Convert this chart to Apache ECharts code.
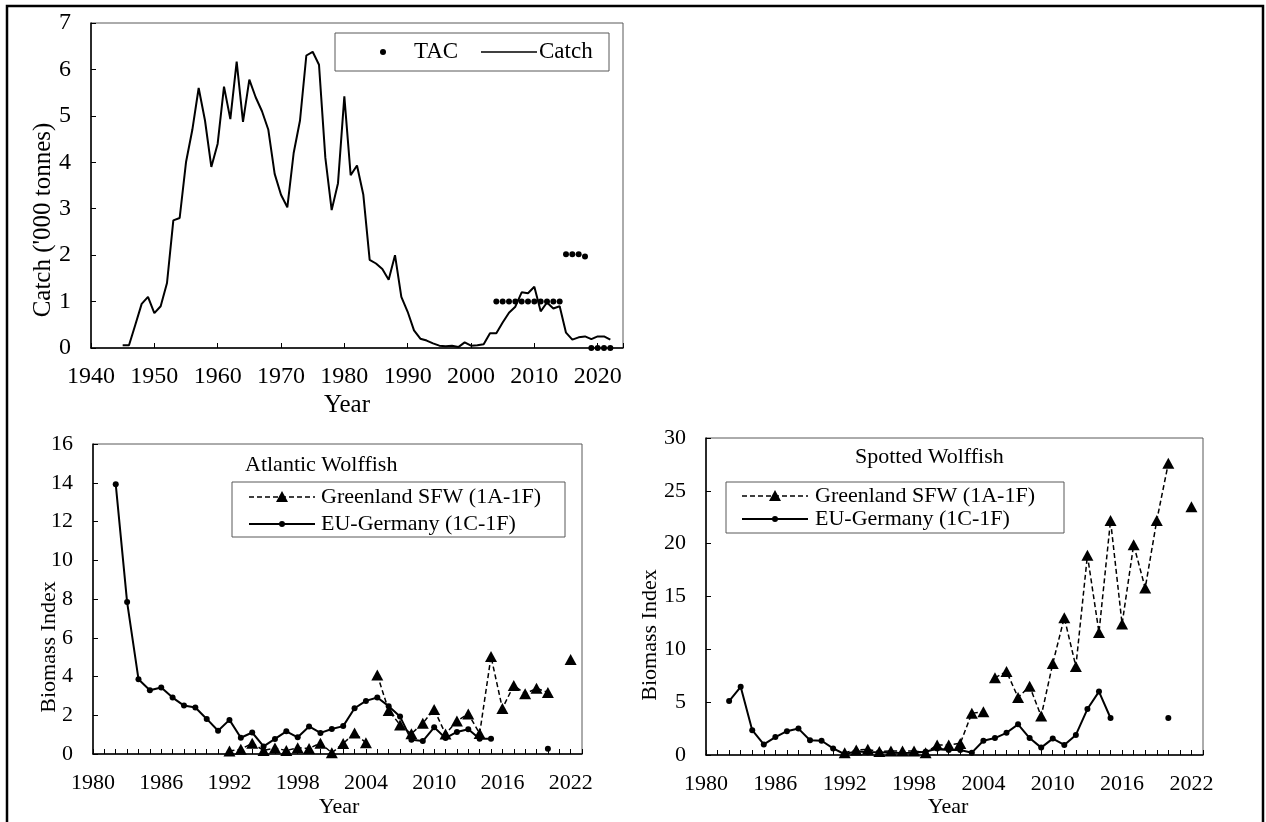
<!DOCTYPE html>
<html>
<head>
<meta charset="utf-8">
<script src="https://cdn.jsdelivr.net/npm/echarts@6/dist/echarts.min.js"></script>
<style>
html,body{margin:0;padding:0;background:#fff;}
#chart{width:1266px;height:822px;}
</style>
</head>
<body>
<div id="chart"></div>
<script>
// ---- Top panel: catch and TAC ----
const catchYears = [1945,1946,1947,1948,1949,1950,1951,1952,1953,1954,1955,1956,1957,1958,1959,1960,1961,1962,1963,1964,1965,1966,1967,1968,1969,1970,1971,1972,1973,1974,1975,1976,1977,1978,1979,1980,1981,1982,1983,1984,1985,1986,1987,1988,1989,1990,1991,1992,1993,1994,1995,1996,1997,1998,1999,2000,2001,2002,2003,2004,2005,2006,2007,2008,2009,2010,2011,2012,2013,2014,2015,2016,2017,2018,2019,2020,2021,2022];
const catchValues = [0.06,0.06,0.5,0.95,1.1,0.75,0.9,1.4,2.75,2.8,4.0,4.7,5.6,4.9,3.9,4.4,5.63,4.93,6.17,4.87,5.78,5.4,5.1,4.7,3.75,3.3,3.03,4.2,4.9,6.3,6.38,6.1,4.1,2.97,3.55,5.42,3.72,3.93,3.3,1.9,1.82,1.7,1.47,2.0,1.1,0.78,0.38,0.2,0.16,0.1,0.05,0.04,0.05,0.02,0.12,0.05,0.06,0.08,0.32,0.32,0.55,0.76,0.89,1.2,1.18,1.32,0.79,0.98,0.85,0.9,0.33,0.18,0.23,0.25,0.19,0.25,0.25,0.18];
const tacYears = [2004,2005,2006,2007,2008,2009,2010,2011,2012,2013,2014,2015,2016,2017,2018,2019,2020,2021,2022];
const tacValues = [1,1,1,1,1,1,1,1,1,1,1,2.02,2.02,2.02,1.97,0,0,0,0];

// ---- Bottom-left: Atlantic Wolffish ----
const atlGreenYears1 = [1992,1993,1994,1995,1996,1997,1998,1999,2000,2001,2002,2003,2004];
const atlGreen1 = [0.15,0.24,0.56,0.18,0.31,0.18,0.32,0.29,0.56,0.06,0.54,1.08,0.58];
const atlGreenYears2 = [2005,2006,2007,2008,2009,2010,2011,2012,2013,2014,2015,2016,2017,2018,2019,2020,2021,2022];
const atlGreen2 = [4.08,2.25,1.5,1.04,1.59,2.3,1.03,1.7,2.07,1.06,5.03,2.35,3.54,3.11,3.39,3.18,null,4.88];
const atlEUYears = [1982,1983,1984,1985,1986,1987,1988,1989,1990,1991,1992,1993,1994,1995,1996,1997,1998,1999,2000,2001,2002,2003,2004,2005,2006,2007,2008,2009,2010,2011,2012,2013,2014,2015,2016,2017,2018,2019,2020];
const atlEU = [13.92,7.84,3.86,3.29,3.43,2.91,2.5,2.4,1.81,1.2,1.76,0.84,1.11,0.39,0.78,1.17,0.86,1.42,1.09,1.29,1.44,2.36,2.74,2.92,2.47,1.93,0.73,0.67,1.38,0.82,1.14,1.28,0.79,0.79,null,null,null,null,0.27];

// ---- Bottom-right: Spotted Wolffish ----
const spoGreenYears1 = [1992,1993,1994,1995,1996,1997,1998,1999,2000,2001,2002,2003,2004];
const spoGreen1 = [0.22,0.47,0.54,0.32,0.38,0.38,0.38,0.22,0.95,0.95,1.1,3.95,4.1];
const spoGreenYears2 = [2005,2006,2007,2008,2009,2010,2011,2012,2013,2014,2015,2016,2017,2018,2019,2020,2021,2022];
const spoGreen2 = [7.3,7.9,5.45,6.5,3.68,8.65,13.0,8.38,18.9,11.6,22.2,12.4,19.9,15.8,22.2,27.6,null,23.5];
const spoEUYears = [1982,1983,1984,1985,1986,1987,1988,1989,1990,1991,1992,1993,1994,1995,1996,1997,1998,1999,2000,2001,2002,2003,2004,2005,2006,2007,2008,2009,2010,2011,2012,2013,2014,2015,2016,2017,2018,2019,2020];
const spoEU = [5.1,6.45,2.35,1.0,1.7,2.25,2.5,1.4,1.35,0.62,0.07,0.35,0.25,0.25,0.22,0.18,0.22,0.3,0.62,0.47,0.47,0.22,1.35,1.6,2.1,2.9,1.6,0.7,1.55,0.95,1.9,4.35,6.0,3.5,null,null,null,null,3.5];

// ---- Texts ----
const topYTitle = "Catch ('000 tonnes)";
const bottomYTitle = "Biomass Index";
const xTitle = "Year";
const legendTAC = "TAC";
const legendCatch = "Catch";
const legendGreen = "Greenland SFW (1A-1F)";
const legendEU = "EU-Germany (1C-1F)";
const titleAtl = "Atlantic Wolffish";
const titleSpo = "Spotted Wolffish";

const FONT = '"Liberation Serif", "Times New Roman", serif';

function zip(xs, ys) { return xs.map((x, i) => [x, ys[i] == null ? '-' : ys[i]]); }

function xAx(gi, min, max, interval, labelStep, size, margin) {
  return {
    type: 'value', gridIndex: gi, min: min, max: max, interval: interval,
    splitLine: { show: false },
    axisLine: { onZero: false, lineStyle: { color: '#000', width: 1.5 } },
    axisTick: { inside: true, length: 5, lineStyle: { color: '#000', width: 1 } },
    axisLabel: {
      color: '#000', fontFamily: FONT, fontSize: size, margin: margin,
      formatter: v => ((v - min) % labelStep === 0 ? String(v) : '')
    }
  };
}
function yAx(gi, max, interval, size) {
  return {
    type: 'value', gridIndex: gi, min: 0, max: max, interval: interval,
    splitLine: { show: false },
    axisLine: { onZero: false, lineStyle: { color: '#000', width: 1.5 } },
    axisTick: { inside: true, length: 5, lineStyle: { color: '#000', width: 1 } },
    axisLabel: { color: '#000', fontFamily: FONT, fontSize: size, margin: 20, formatter: v => String(v) }
  };
}
function greenSeries(gi, xs, ys) {
  return {
    type: 'line', xAxisIndex: gi, yAxisIndex: gi, data: zip(xs, ys),
    symbol: 'triangle', symbolSize: [12, 11], showAllSymbol: true, connectNulls: false,
    lineStyle: { color: '#000', width: 1.5, type: [5, 3] },
    itemStyle: { color: '#000' }, z: 4, clip: false
  };
}
function euSeries(gi, xs, ys) {
  return {
    type: 'line', xAxisIndex: gi, yAxisIndex: gi, data: zip(xs, ys),
    symbol: 'circle', symbolSize: 6, showAllSymbol: true, connectNulls: false,
    lineStyle: { color: '#000', width: 2 },
    itemStyle: { color: '#000' }, z: 3, clip: false
  };
}

function txt(x, y, s, size, align, valign, rot) {
  return {
    type: 'text', x: x, y: y, rotation: rot || 0, z: 100,
    style: { text: s, font: size + 'px ' + FONT, fill: '#000',
      align: align || 'left', verticalAlign: valign || 'middle',
      textAlign: align || 'left', textVerticalAlign: valign || 'middle' }
  };
}
function box(x, y, w, h) {
  return { type: 'rect', z: 90, shape: { x: x, y: y, width: w, height: h },
    style: { fill: '#fff', stroke: '#595959', lineWidth: 1 } };
}
function seg(x1, x2, y, dashed, w) {
  return { type: 'line', z: 100, shape: { x1: x1, y1: y, x2: x2, y2: y },
    style: { stroke: '#000', lineWidth: w, lineDash: dashed ? [5, 3] : null } };
}
function tri(cx, cy) {
  return { type: 'polygon', z: 101, shape: { points: [[cx - 6, cy + 5], [cx + 6, cy + 5], [cx, cy - 6]] },
    style: { fill: '#000' } };
}
function dot(cx, cy, r) {
  return { type: 'circle', z: 101, shape: { cx: cx, cy: cy, r: r }, style: { fill: '#000' } };
}

const chart = echarts.init(document.getElementById('chart'), null, { renderer: 'canvas' });
const option = {
  animation: false,
  backgroundColor: '#fff',
  textStyle: { fontFamily: FONT },
  grid: [
    { left: 91, top: 23, width: 532, height: 325, show: true, borderColor: '#595959', borderWidth: 1 },
    { left: 93, top: 444, width: 489, height: 310, show: true, borderColor: '#595959', borderWidth: 1 },
    { left: 706, top: 438, width: 497, height: 317, show: true, borderColor: '#595959', borderWidth: 1 }
  ],
  xAxis: [
    xAx(0, 1940, 2024, 10, 10, 24, 17),
    xAx(1, 1980, 2023, 1, 6, 22, 18),
    xAx(2, 1980, 2023, 1, 6, 22, 18)
  ],
  yAxis: [
    yAx(0, 7, 1, 24),
    yAx(1, 16, 2, 22),
    yAx(2, 30, 5, 22)
  ],
  series: [
    { type: 'line', xAxisIndex: 0, yAxisIndex: 0, data: zip(catchYears, catchValues),
      symbol: 'none', lineStyle: { color: '#000', width: 2 }, z: 3 },
    { type: 'scatter', xAxisIndex: 0, yAxisIndex: 0, data: zip(tacYears, tacValues),
      symbol: 'circle', symbolSize: 6, itemStyle: { color: '#000', opacity: 1 }, z: 4, clip: false },
    euSeries(1, atlEUYears, atlEU),
    greenSeries(1, atlGreenYears1, atlGreen1),
    greenSeries(1, atlGreenYears2, atlGreen2),
    euSeries(2, spoEUYears, spoEU),
    greenSeries(2, spoGreenYears1, spoGreen1),
    greenSeries(2, spoGreenYears2, spoGreen2)
  ],
  graphic: [
    { type: 'rect', z: 120, shape: { x: 7, y: 6, width: 1256, height: 830 },
      style: { fill: 'none', stroke: '#000', lineWidth: 2.5 } },
    // axis titles
    txt(43, 220, topYTitle, 25, 'center', 'middle', Math.PI / 2),
    txt(347, 405, xTitle, 25, 'center', 'middle'),
    txt(49, 647, bottomYTitle, 22, 'center', 'middle', Math.PI / 2),
    txt(339, 807, xTitle, 22, 'center', 'middle'),
    txt(650, 635, bottomYTitle, 22, 'center', 'middle', Math.PI / 2),
    txt(948, 807, xTitle, 22, 'center', 'middle'),
    // top legend
    box(335, 33, 274, 38),
    dot(383, 52, 3),
    txt(414, 52, legendTAC, 23),
    seg(481, 537, 52, false, 1.5),
    txt(539, 52, legendCatch, 23),
    // bottom-left
    txt(245, 465, titleAtl, 22),
    box(232, 482, 333, 55),
    seg(249, 315, 497, true, 1.5), tri(282, 497), txt(321, 497, legendGreen, 22),
    seg(249, 315, 524, false, 2), dot(282, 524, 3), txt(321, 524, legendEU, 22),
    // bottom-right
    txt(855, 457, titleSpo, 22),
    box(726, 482, 338, 51),
    seg(742, 808, 496, true, 1.5), tri(775, 496), txt(815, 496, legendGreen, 22),
    seg(742, 808, 519, false, 2), dot(775, 519, 3), txt(815, 519, legendEU, 22)
  ]
};
chart.setOption(option);
</script>
</body>
</html>
